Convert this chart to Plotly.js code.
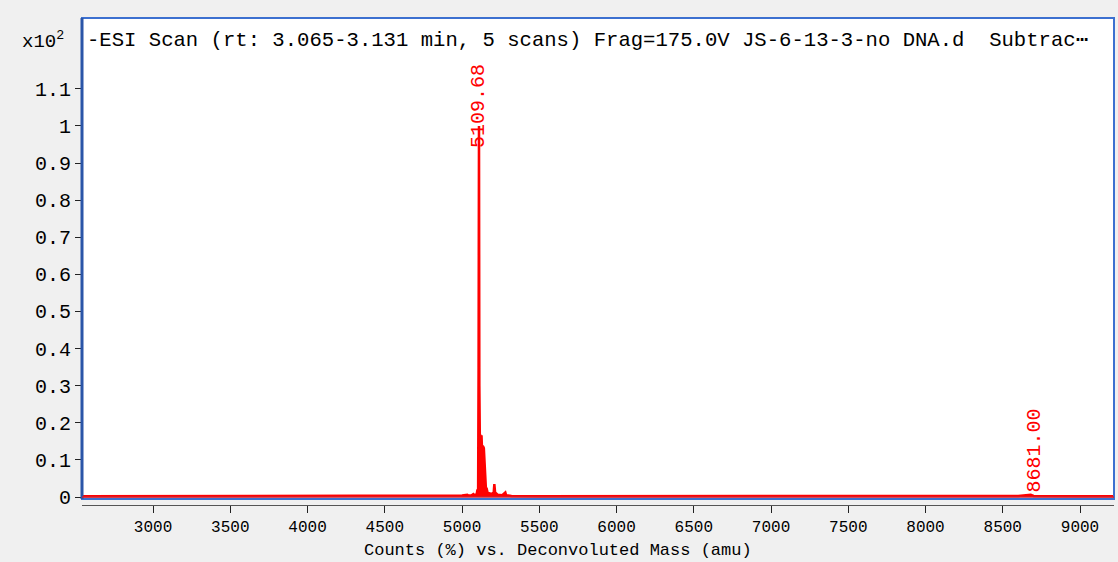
<!DOCTYPE html>
<html>
<head>
<meta charset="utf-8">
<script src="https://cdn.plot.ly/plotly-3.0.1.min.js"></script>
<style>
  html, body { margin: 0; padding: 0; background: #f0f0f0; }
  #chart { width: 1118px; height: 562px; }
</style>
</head>
<body>
<div id="chart"></div>
<script>
// Deconvoluted mass spectrum (Counts (%) x10^2 vs. mass, amu)
const masses = [2540, 3000, 3600, 4200, 4420, 4450, 4480, 4600, 4800, 4950, 5000, 5034, 5040, 5060, 5073, 5080, 5095, 5100, 5104, 5107, 5109.68, 5112, 5115, 5118, 5122, 5126, 5130, 5134, 5137, 5141, 5145, 5150, 5155, 5158, 5165, 5175, 5190, 5205, 5209, 5214, 5230, 5260, 5276, 5280, 5285, 5320, 5500, 5800, 6000, 6400, 7000, 7600, 8200, 8600, 8681, 8700, 9000, 9220];
const counts = [0.002, 0.002, 0.002, 0.002, 0.002, 0.003, 0.002, 0.003, 0.003, 0.004, 0.004, 0.006, 0.004, 0.004, 0.008, 0.005, 0.008, 0.02, 0.012, 0.35, 1.0, 0.3, 0.165, 0.168, 0.16, 0.166, 0.12, 0.138, 0.135, 0.132, 0.09, 0.03, 0.018, 0.025, 0.012, 0.01, 0.008, 0.012, 0.035, 0.012, 0.006, 0.005, 0.013, 0.012, 0.005, 0.003, 0.002, 0.002, 0.002, 0.002, 0.002, 0.002, 0.002, 0.003, 0.006, 0.003, 0.002, 0.002];

const peakMasses = [5109.68, 8681.00];
const peakCounts = [1.0, 0.006];
const peakLabels = ["5109.68", "8681.00"];

const yTickVals = [0, 0.1, 0.2, 0.3, 0.4, 0.5, 0.6, 0.7, 0.8, 0.9, 1, 1.1];
const yTickText = ["0", "0.1", "0.2", "0.3", "0.4", "0.5", "0.6", "0.7", "0.8", "0.9", "1", "1.1"];
const xTickVals = [3000, 3500, 4000, 4500, 5000, 5500, 6000, 6500, 7000, 7500, 8000, 8500, 9000];

const titleText = "-ESI Scan (rt: 3.065-3.131 min, 5 scans) Frag=175.0V JS-6-13-3-no DNA.d&nbsp; Subtrac\u22ef";
const xTitle = "Counts (%) vs. Deconvoluted Mass (amu)";

const MONO = "Liberation Mono, Courier New, monospace";

const trace = {
  x: masses,
  y: counts,
  type: "scatter",
  mode: "lines",
  line: { color: "#ff0000", width: 2.5 },
  fill: "tozeroy",
  fillcolor: "#ff0000",
  hoverinfo: "skip",
  showlegend: false
};

const annotations = peakMasses.map((m, i) => ({
  x: m, y: peakCounts[i], xref: "x", yref: "y",
  text: peakLabels[i], textangle: -90, showarrow: false,
  xanchor: "center", yanchor: "bottom",
  yshift: i === 0 ? -24 : 0, xshift: i === 0 ? 0 : 4,
  font: { family: MONO, size: 20, color: "#ff0000" }
}));

annotations.push({
  xref: "paper", yref: "paper", x: 0, y: 1, xanchor: "left", yanchor: "middle",
  xshift: 3, yshift: -22, showarrow: false, text: titleText,
  font: { family: MONO, size: 20.6, color: "#000000" }
});
annotations.push({
  xref: "paper", yref: "paper", x: 0, y: 1, xanchor: "right", yanchor: "middle",
  xshift: -16, yshift: -22, showarrow: false, text: "x10<sup>2</sup>",
  font: { family: MONO, size: 19, color: "#000000" }
});
annotations.push({
  xref: "paper", yref: "paper", x: 0.5, y: 0, xanchor: "center", yanchor: "top",
  xshift: -40, yshift: -34, showarrow: false, text: xTitle,
  font: { family: MONO, size: 17, color: "#000000" }
});

const yDomLo = 0.0123;

const layout = {
  width: 1118, height: 562,
  margin: { l: 82, r: 4, t: 18, b: 57 },
  paper_bgcolor: "#f0f0f0",
  plot_bgcolor: "#ffffff",
  showlegend: false,
  xaxis: {
    range: [2540, 9220],
    anchor: "free", position: 0,
    tickvals: xTickVals, tickformat: "d",
    ticks: "outside", ticklen: 7, tickcolor: "#222", tickwidth: 1,
    showline: true, linecolor: "#555", linewidth: 1,
    showgrid: false, zeroline: false,
    tickfont: { family: MONO, size: 16, color: "#000" }
  },
  yaxis: {
    range: [-0.0054, 1.291],
    domain: [yDomLo, 1],
    tickvals: yTickVals, ticktext: yTickText,
    ticks: "outside", ticklen: 6, tickcolor: "#222", tickwidth: 1,
    showline: false, showgrid: false, zeroline: false,
    tickfont: { family: MONO, size: 20, color: "#000" }
  },
  shapes: [
    { type: "rect", xref: "paper", yref: "paper", x0: 0, x1: 1, y0: yDomLo, y1: 1,
      line: { color: "#3c70d0", width: 2 }, fillcolor: "rgba(0,0,0,0)" },
    { type: "line", xref: "paper", yref: "paper", x0: 0, x1: 0, y0: yDomLo, y1: 1,
      line: { color: "#2a55a8", width: 3 } },
    { type: "line", xref: "paper", yref: "y", x0: 0, x1: 1, y0: 0, y1: 0,
      line: { color: "#d02030", width: 1.5 } }
  ],
  annotations: annotations
};

Plotly.newPlot("chart", [trace], layout, { staticPlot: true, displayModeBar: false });
</script>
</body>
</html>
